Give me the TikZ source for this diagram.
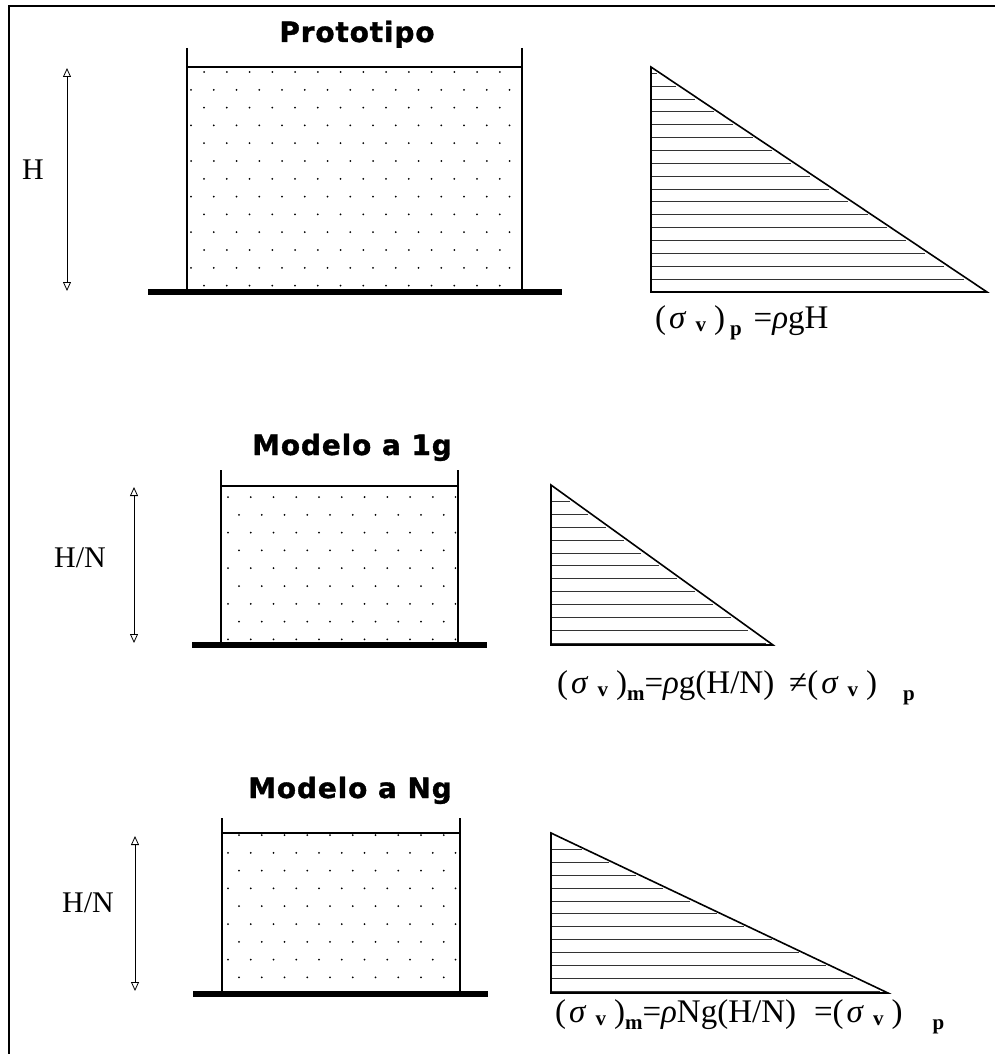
\documentclass[tikz,border=0pt]{standalone}
\usepackage{fontspec}
\setmainfont{Liberation Serif}
\newfontfamily\titulofont[LetterSpace=3,BoldFeatures={FakeBold=1.2}]{DejaVu Sans}
\usetikzlibrary{arrows.meta}
\newcommand{\subi}[1]{\raisebox{-0.22em}{\fontsize{21}{21}\selectfont\bfseries #1}}
\newcommand{\subv}[1]{\raisebox{-0.08em}{\fontsize{21}{21}\selectfont\bfseries #1}}
\newcommand{\sigv}{(\hspace{3pt}\textit{σ}\hspace{9pt}\subv{v}\hspace{8pt})}
% puntos del suelo: xl, xr, ytop, ybot, x fila par, x fila impar, y primera fila
\newcommand{\puntos}[7]{%
  \begin{scope}
    \clip (#1,#3) rectangle (#2,#4);
    \foreach \j in {0,...,13} \foreach \i in {0,...,15}
      \fill ({#5+(#6-#5)*mod(\j,2)+22.75*\i},{#7+17.8*\j}) circle (1);
  \end{scope}}
% rayado del diagrama: xl, ytop, ybot, xr, primera linea, n
\newcommand{\rayado}[6]{%
  \foreach \k in {0,...,#6}
    \draw[raya] (#1,{#5-12.85*\k}) -- ({#1+(#5-12.85*\k-#2)/(#3-#2)*(#4-#1)-4},{#5-12.85*\k});}
\begin{document}
\begin{tikzpicture}[x=1pt,y=-1pt,
  pared/.style={line width=1.6pt},
  agua/.style={line width=1.2pt},
  base/.style={line width=5.5pt},
  borde/.style={line width=1.6pt,line join=miter},
  raya/.style={line width=0.9pt,black!80},
  cota/.style={line width=0.8pt,{Triangle[open,length=9pt,width=8pt]}-{Triangle[open,length=9pt,width=8pt]}},
  titulo/.style={font=\titulofont\bfseries\fontsize{28}{30}\selectfont,anchor=base,inner sep=0pt},
  letra/.style={font=\fontsize{30}{34}\selectfont,inner sep=0pt},
  formula/.style={font=\fontsize{33}{36}\selectfont,anchor=west,inner sep=0pt}]
\useasboundingbox (0,0) rectangle (995,1054);
\draw[line width=2.5pt] (995,6) -- (9,6) -- (9,1054);

% Prototipo
\node[titulo] (tit1) at (357,42) {Prototipo};
\puntos{189}{518}{69}{290}{204}{191}{72}
\draw[pared] (187,48) -- (187,292) (522,48) -- (522,292);
\draw[agua] (187,67) -- (522,67);
\draw[base] (148,292) -- (562,292);
\coordinate (a1t) at (67,68);
\coordinate (a1b) at (67,291);
\draw[cota] (a1t) -- (a1b);
\node[letra] (h1) at (33,170) {H};
\rayado{651}{67}{292}{987}{279}{16}
\draw[borde] (651,67) -- (651,292) -- (987,292) -- cycle;
\node[formula] (f1) at (655,323) {\sigv\hspace{5pt}\subi{p}\hspace{12pt}=\textit{ρ}gH};

% Modelo a 1g
\node[titulo] (tit2) at (352,455) {Modelo a 1g};
\puntos{223}{456}{488}{643}{228}{239}{497}
\draw[pared] (221,470) -- (221,645) (458,470) -- (458,645);
\draw[agua] (221,486) -- (458,486);
\draw[base] (192,645) -- (487,645);
\coordinate (a2t) at (134,487);
\coordinate (a2b) at (134,643);
\draw[cota] (a2t) -- (a2b);
\node[letra] (h2) at (80,558) {H/N};
\rayado{551}{485}{645}{773}{643}{11}
\draw[borde] (551,485) -- (551,645) -- (773,645) -- cycle;
\node[formula] (f2) at (557,688) {\sigv\subi{m}=\textit{ρ}g(H/N)\hspace{15pt}≠\sigv\hspace{26pt}\subi{p}};

% Modelo a Ng
\node[titulo] (tit3) at (350,798) {Modelo a Ng};
\puntos{224}{458}{832}{992}{239}{228}{835}
\draw[pared] (222,818) -- (222,994) (460,818) -- (460,994);
\draw[agua] (222,833) -- (460,833);
\draw[base] (193,994) -- (488,994);
\coordinate (a3t) at (135,836);
\coordinate (a3b) at (135,991);
\draw[cota] (a3t) -- (a3b);
\node[letra] (h3) at (88,903) {H/N};
\rayado{551}{833}{993}{888}{991}{11}
\draw[borde] (551,833) -- (551,993) -- (888,993) -- cycle;
\node[formula] (f3) at (555,1017) {\sigv\subi{m}=\textit{ρ}Ng(H/N)\hspace{18pt}=\sigv\hspace{30pt}\subi{p}};
\end{tikzpicture}
\end{document}
